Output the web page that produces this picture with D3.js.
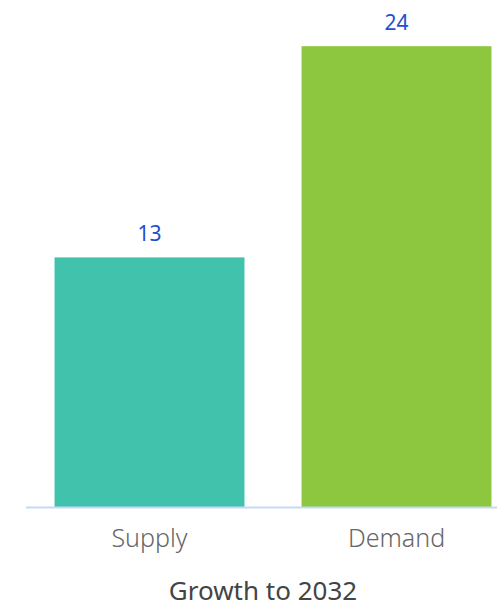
<!DOCTYPE html>
<html>
<head>
<meta charset="utf-8">
<script src="https://cdn.jsdelivr.net/npm/d3@7"></script>
<style>
  body { margin: 0; background: #fff; }
  text { font-family: "Noto Sans", sans-serif; }
</style>
</head>
<body>
<div class="chart"></div>
<script>
// data
var categories = ["Supply", "Demand"];
var values = [13, 24];
var barColors = ["#40c2ad", "#8dc63f"];
var axisTitle = "Growth to 2032";

var width = 497;
var height = 607;
var baseY = 507;

var svg = d3.select(".chart").append("svg")
    .attr("width", width)
    .attr("height", height);

var x = d3.scaleBand()
    .domain(categories)
    .range([26, 520])
    .paddingInner(0.231)
    .paddingOuter(0.1155);

var y = d3.scaleLinear()
    .domain([0, 25])
    .range([baseY, baseY - 480]);

// bars
svg.append("g").selectAll("rect")
    .data(values)
  .enter().append("rect")
    .attr("x", function(d, i){ return x(categories[i]); })
    .attr("y", function(d){ return y(d); })
    .attr("width", x.bandwidth())
    .attr("height", function(d){ return y(0) - y(d); })
    .style("fill", function(d, i){ return barColors[i]; });

// value labels
svg.append("g").selectAll("text")
    .data(values)
  .enter().append("text")
    .attr("x", function(d, i){ return x(categories[i]) + x.bandwidth() / 2; })
    .attr("y", function(d){ return y(d) - 16; })
    .attr("text-anchor", "middle")
    .style("font-size", "21px")
    .style("fill", "#1f50d0")
    .text(function(d){ return d; });

// x axis
var xAxis = svg.append("g")
    .attr("transform", "translate(0," + baseY + ")")
    .call(d3.axisBottom(x).tickSize(0).tickPadding(22));
xAxis.select(".domain")
    .attr("d", "M26,0.5H" + width)
    .style("stroke", "#c5d9f5")
    .style("stroke-width", 2);
xAxis.selectAll(".tick text")
    .style("font-family", "'Noto Sans', sans-serif")
    .style("font-size", "25px")
    .style("font-weight", 300)
    .style("fill", "#666");

// axis title
svg.append("text")
    .attr("x", 263)
    .attr("y", 600)
    .attr("text-anchor", "middle")
    .style("font-size", "26px")
    .style("fill", "#444")
    .text(axisTitle);
</script>
</body>
</html>
